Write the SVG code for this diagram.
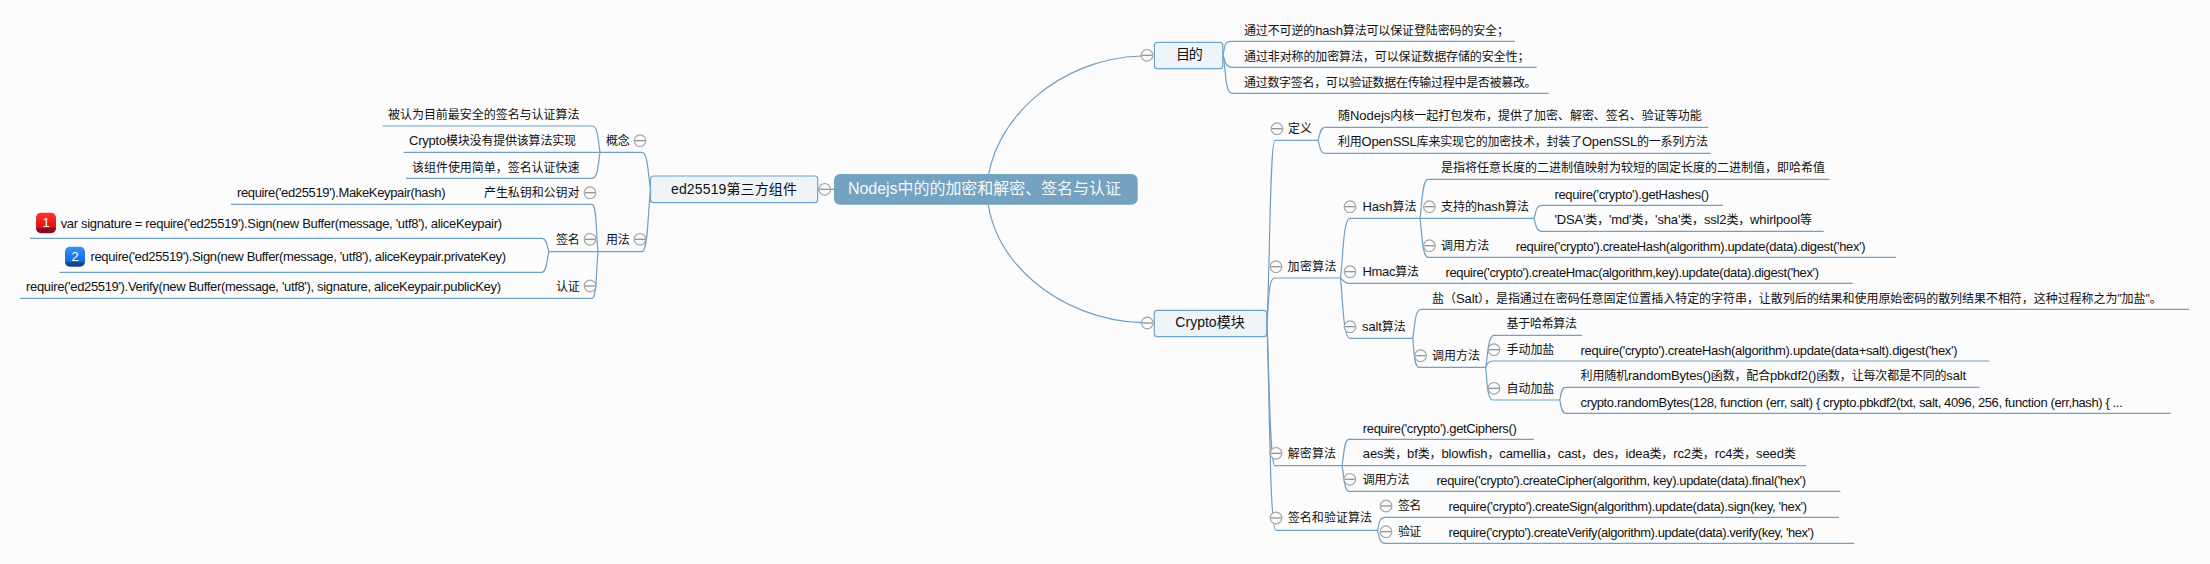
<svg xmlns="http://www.w3.org/2000/svg" width="2210" height="564" viewBox="0 0 2210 564">
<style>
text{font-family:"Liberation Sans","Noto Sans CJK SC",sans-serif;fill:#111}
.t{font-size:12px}
.c{font-size:13px}
.n{font-size:14px}
.r{font-size:16px;fill:#f4f8fb}
.box{fill:#eef4f8;stroke:#70a3c8;stroke-width:1.2}
#connectors path{fill:none;stroke:#6fa1c5;stroke-width:1.2}
.tog circle{fill:#fbfbfb;stroke:#a3a3a3;stroke-width:1.2}
.tog line{stroke:#8a8a8a;stroke-width:1.2}
.ic{font-size:13px;fill:#fff;text-anchor:middle}
</style>
<defs>
<g id="m" class="tog"><circle r="5.8"/><line x1="-5" x2="5" y1="0" y2="0"/></g>
<linearGradient id="red" x1="0" y1="0" x2="0" y2="1"><stop offset="0" stop-color="#f43a2c"/><stop offset=".75" stop-color="#e30d0d"/><stop offset=".76" stop-color="#8f0c22"/><stop offset="1" stop-color="#7d0a1c"/></linearGradient>
<linearGradient id="blue" x1="0" y1="0" x2="0" y2="1"><stop offset="0" stop-color="#3c93f2"/><stop offset=".75" stop-color="#0c6ae6"/><stop offset=".76" stop-color="#0c4f9c"/><stop offset="1" stop-color="#0a4488"/></linearGradient>
</defs>
<rect width="2210" height="564" fill="#fcfcfc"/>
<g id="connectors">
<path d="M987,189C990,120 1060,58 1141.500,56"/>
<path d="M987,189C987,260 1060,320 1141.500,322.700"/>
<path d="M818,189.300H834"/>
<path d="M1223,55C1225,47 1224,41.300 1231,41.300H1515"/>
<path d="M1223,55C1225,60 1225,67.300 1232,67.300H1536.600"/>
<path d="M1223,55C1226,70 1225,93.300 1232,93.300H1548.700"/>
<path d="M1267,323C1270,260 1270,140.300 1275,140.300H1318"/>
<path d="M1267,323C1269,300 1268,278 1275,278H1340.500"/>
<path d="M1267,323C1270,400 1270,465.700 1275,465.700H1342"/>
<path d="M1267,323C1270,420 1270,530.300 1276,530.300H1377.500"/>
<path d="M1318,140.300C1320,135 1320,127.300 1325,127.300H1708.300"/>
<path d="M1318,140.300C1320,146 1320,153.300 1325,153.300H1710.700"/>
<path d="M1340.500,278C1343,260 1343,218.300 1350,218.300H1420"/>
<path d="M1340.500,278C1343,280 1344,283.300 1349,283.300H1852.700"/>
<path d="M1340.500,278C1343,300 1343,338.300 1350,338.300H1412.800"/>
<path d="M1420,218.300C1422,205 1422,179.300 1428,179.300H1829.500"/>
<path d="M1420,218.300H1534"/>
<path d="M1420,218.300C1422,232 1422,257.300 1428,257.300H1896"/>
<path d="M1534,218.300C1536,212 1536,205.300 1542,205.300H1723"/>
<path d="M1534,218.300C1536,225 1536,231.300 1542,231.300H1823.700"/>
<path d="M1412.800,338.300C1415,325 1415,309.300 1421,309.300H2189"/>
<path d="M1412.800,338.300C1414,350 1414,367.300 1419,367.300H1485.700"/>
<path d="M1485.700,367.300C1488,355 1488,335.300 1494,335.300H1582"/>
<path d="M1485.700,367.300C1487,364 1488,361 1493,361H1989.300"/>
<path d="M1485.700,367.300C1487,380 1487,400 1493,400H1559.800"/>
<path d="M1559.800,400C1561,395 1561,387.300 1566,387.300H1979.400"/>
<path d="M1559.800,400C1561,405 1561,413.300 1566,413.300H2170.700"/>
<path d="M1342,465.700C1344,455 1344,439.300 1349,439.300H1533.800"/>
<path d="M1342,465.700H1806"/>
<path d="M1342,465.700C1344,475 1344,491.300 1349,491.300H1840.400"/>
<path d="M1377.500,530.300C1379,525 1379,517.300 1385,517.300H1839"/>
<path d="M1377.500,530.300C1379,535 1379,543.300 1385,543.300H1854.300"/>
<path d="M650.500,189.500C648,175 648,152.300 642,152.300H600"/>
<path d="M650.500,189.500C648,210 648,251.700 642,251.700H598"/>
<path d="M600,152.300C598,140 598,126 592,126H382.600"/>
<path d="M600,152.300H403.600"/>
<path d="M600,152.300C598,165 598,178.300 592,178.300H406"/>
<path d="M598,251.700C596,235 597,204.300 592,204.300H231"/>
<path d="M598,251.700H549"/>
<path d="M598,251.700C596,270 597,298.300 592,298.300H20"/>
<path d="M549,251.700C547,247 547,238.300 542,238.300H30"/>
<path d="M549,251.700C547,257 547,272.300 542,272.300H59.400"/>
</g>
<g id="root"><rect x="834" y="174" width="303.700" height="30.700" rx="6" fill="#74a2c1"/><text class="r" x="848" y="194" textLength="273">Nodejs中的的加密和解密、签名与认证</text></g>
<g id="n-ed25519"><rect class="box" x="650.500" y="176" width="167.200" height="26.700" rx="3"/><text class="n" x="671" y="194" textLength="126">ed25519第三方组件</text><use href="#m" x="824.700" y="189.300"/></g>
<g id="n-gainian"><text class="t" x="606" y="145" textLength="23.700">概念</text><use href="#m" x="640" y="140.700"/></g>
<g id="n-g1"><text class="t" x="388" y="118.700" textLength="191.500">被认为目前最安全的签名与认证算法</text></g>
<g id="n-g2"><text class="t" x="409" y="145" textLength="167"><tspan class="c">Crypto</tspan>模块没有提供该算法实现</text></g>
<g id="n-g3"><text class="t" x="412" y="171.500" textLength="167.500">该组件使用简单，签名认证快速</text></g>
<g id="n-yongfa"><text class="t" x="606" y="243.700" textLength="23.700">用法</text><use href="#m" x="640" y="239.300"/></g>
<g id="n-keypair"><text class="t" x="484" y="197" textLength="95.500">产生私钥和公钥对</text><use href="#m" x="590" y="192.700"/><text class="c" x="237" y="197" textLength="208.500">require('ed25519').MakeKeypair(hash)</text></g>
<g id="n-sign"><text class="t" x="556" y="243.700" textLength="23.700">签名</text><use href="#m" x="590" y="239.300"/></g>
<g id="n-sign1"><rect x="36" y="212.700" width="20" height="20.500" rx="5" fill="url(#red)"/><text class="ic" x="46" y="227">1</text><text class="c" x="60.700" y="227.500" textLength="441.300">var signature = require('ed25519').Sign(new Buffer(message, 'utf8'), aliceKeypair)</text></g>
<g id="n-sign2"><rect x="65" y="246.700" width="20" height="20" rx="5" fill="url(#blue)"/><text class="ic" x="75" y="261">2</text><text class="c" x="90.500" y="261" textLength="415.500">require('ed25519').Sign(new Buffer(message, 'utf8'), aliceKeypair.privateKey)</text></g>
<g id="n-verify"><text class="t" x="556" y="290.500" textLength="23.700">认证</text><use href="#m" x="590" y="286"/><text class="c" x="26" y="291" textLength="475">require('ed25519').Verify(new Buffer(message, 'utf8'), signature, aliceKeypair.publicKey)</text></g>
<g id="n-mudi"><rect class="box" x="1154.400" y="42.300" width="68.400" height="26.400" rx="3"/><text class="n" x="1176" y="59" textLength="26.700">目的</text><use href="#m" x="1147" y="55.300"/></g>
<g id="n-m1"><text class="t" x="1244" y="34.500" textLength="265">通过不可逆的<tspan class="c">hash</tspan>算法可以保证登陆密码的安全；</text></g>
<g id="n-m2"><text class="t" x="1244" y="60.500" textLength="285.400">通过非对称的加密算法，可以保证数据存储的安全性；</text></g>
<g id="n-m3"><text class="t" x="1244" y="86.700" textLength="292.600">通过数字签名，可以验证数据在传输过程中是否被篡改。</text></g>
<g id="n-crypto"><rect class="box" x="1154.300" y="310.300" width="112.400" height="26.400" rx="3"/><text class="n" x="1175.300" y="327" textLength="69.400">Crypto模块</text><use href="#m" x="1147.300" y="323"/></g>
<g id="n-def"><text class="t" x="1288" y="133" textLength="24">定义</text><use href="#m" x="1277" y="128.700"/></g>
<g id="n-d1"><text class="t" x="1338" y="120" textLength="363.700">随<tspan class="c">Nodejs</tspan>内核一起打包发布，提供了加密、解密、签名、验证等功能</text></g>
<g id="n-d2"><text class="t" x="1338" y="146" textLength="370">利用<tspan class="c">OpenSSL</tspan>库来实现它的加密技术，封装了<tspan class="c">OpenSSL</tspan>的一系列方法</text></g>
<g id="n-enc"><text class="t" x="1287.600" y="271" textLength="49">加密算法</text><use href="#m" x="1276" y="266.700"/></g>
<g id="n-hash"><text class="t" x="1362.400" y="211" textLength="54"><tspan class="c">Hash</tspan>算法</text><use href="#m" x="1350" y="206.700"/></g>
<g id="n-h1"><text class="t" x="1441" y="172.300" textLength="384">是指将任意长度的二进制值映射为较短的固定长度的二进制值，即哈希值</text></g>
<g id="n-h2"><text class="t" x="1441" y="211" textLength="88">支持的<tspan class="c">hash</tspan>算法</text><use href="#m" x="1429.400" y="206.700"/></g>
<g id="n-h21"><text class="c" x="1554.400" y="198.500" textLength="154.600">require('crypto').getHashes()</text></g>
<g id="n-h22"><text class="t" x="1554.400" y="224" textLength="257.600"><tspan class="c">'DSA'</tspan>类，<tspan class="c">'md'</tspan>类，<tspan class="c">'sha'</tspan>类，<tspan class="c">ssl2</tspan>类，<tspan class="c">whirlpool</tspan>等</text></g>
<g id="n-h3"><text class="t" x="1441" y="250" textLength="48.300">调用方法</text><use href="#m" x="1429.400" y="245.700"/><text class="c" x="1515.700" y="250.500" textLength="349.900">require('crypto').createHash(algorithm).update(data).digest('hex')</text></g>
<g id="n-hmac"><text class="t" x="1362.400" y="276" textLength="56.600"><tspan class="c">Hmac</tspan>算法</text><use href="#m" x="1350" y="271.700"/><text class="c" x="1445.500" y="276.500" textLength="373.500">require('crypto').createHmac(algorithm,key).update(data).digest('hex')</text></g>
<g id="n-salt"><text class="t" x="1362" y="331" textLength="43.700"><tspan class="c">salt</tspan>算法</text><use href="#m" x="1350" y="326.700"/></g>
<g id="n-s1"><text class="t" x="1432" y="302.700" textLength="729.700">盐（<tspan class="c">Salt</tspan>），是指通过在密码任意固定位置插入特定的字符串，让散列后的结果和使用原始密码的散列结果不相符，这种过程称之为"加盐"。</text></g>
<g id="n-s2"><text class="t" x="1432" y="360" textLength="48">调用方法</text><use href="#m" x="1420.500" y="355.700"/></g>
<g id="n-s21"><text class="t" x="1506.600" y="328" textLength="70.400">基于哈希算法</text></g>
<g id="n-s22"><text class="t" x="1506.600" y="354" textLength="47.700">手动加盐</text><use href="#m" x="1494" y="349.700"/><text class="c" x="1580.600" y="354.800" textLength="376.900">require('crypto').createHash(algorithm).update(data+salt).digest('hex')</text></g>
<g id="n-s23"><text class="t" x="1506.600" y="392.700" textLength="47.700">自动加盐</text><use href="#m" x="1494" y="388.300"/></g>
<g id="n-s231"><text class="t" x="1580.600" y="380.300" textLength="385.400">利用随机<tspan class="c">randomBytes()</tspan>函数，配合<tspan class="c">pbkdf2()</tspan>函数，让每次都是不同的<tspan class="c">salt</tspan></text></g>
<g id="n-s232"><text class="c" x="1580.600" y="406.500" textLength="542.100">crypto.randomBytes(128, function (err, salt) { crypto.pbkdf2(txt, salt, 4096, 256, function (err,hash) { ...</text></g>
<g id="n-dec"><text class="t" x="1287.800" y="457.700" textLength="48.200">解密算法</text><use href="#m" x="1276" y="453.300"/></g>
<g id="n-e1"><text class="c" x="1362.800" y="432.500" textLength="154">require('crypto').getCiphers()</text></g>
<g id="n-e2"><text class="t" x="1362.800" y="458.300" textLength="433"><tspan class="c">aes</tspan>类，<tspan class="c">bf</tspan>类，<tspan class="c">blowfish</tspan>，<tspan class="c">camellia</tspan>，<tspan class="c">cast</tspan>，<tspan class="c">des</tspan>，<tspan class="c">idea</tspan>类，<tspan class="c">rc2</tspan>类，<tspan class="c">rc4</tspan>类，<tspan class="c">seed</tspan>类</text></g>
<g id="n-e3"><text class="t" x="1362.800" y="483.700" textLength="46.800">调用方法</text><use href="#m" x="1349.800" y="479.300"/><text class="c" x="1436.400" y="484.500" textLength="369.600">require('crypto').createCipher(algorithm, key).update(data).final('hex')</text></g>
<g id="n-sv"><text class="t" x="1287.800" y="522.300" textLength="84.200">签名和验证算法</text><use href="#m" x="1276" y="518"/></g>
<g id="n-sv1"><text class="t" x="1398" y="510.300" textLength="23.300">签名</text><use href="#m" x="1386" y="506"/><text class="c" x="1448.500" y="510.500" textLength="358.500">require('crypto').createSign(algorithm).update(data).sign(key, 'hex')</text></g>
<g id="n-sv2"><text class="t" x="1398" y="536" textLength="23.300">验证</text><use href="#m" x="1386" y="531.700"/><text class="c" x="1448.500" y="536.500" textLength="365.500">require('crypto').createVerify(algorithm).update(data).verify(key, 'hex')</text></g>
</svg>
